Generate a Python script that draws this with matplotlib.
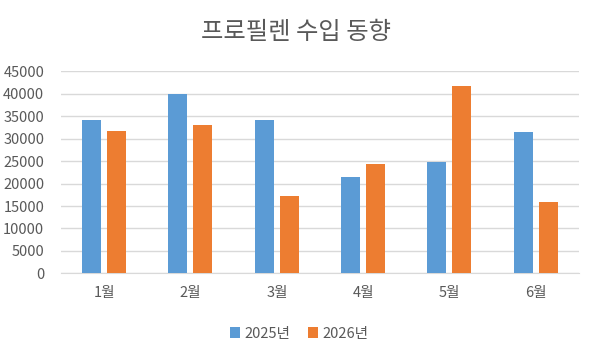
import matplotlib
matplotlib.use("Agg")
import matplotlib.pyplot as plt
import numpy as np

plt.rcParams['font.family'] = ['Noto Sans CJK KR', 'DejaVu Sans']

categories = ['1월', '2월', '3월', '4월', '5월', '6월']
series_names = ['2025년', '2026년']
values_2025 = [34100, 39900, 34100, 21400, 24800, 31400]
values_2026 = [31700, 33000, 17200, 24300, 41700, 15800]
yticks = [0, 5000, 10000, 15000, 20000, 25000, 30000, 35000, 40000, 45000]

blue = '#5B9BD5'
orange = '#ED7D31'
txt = '#595959'

fig = plt.figure(figsize=(5.92, 3.52), dpi=100)
ax = fig.add_axes([0.103, 0.2236, 0.875, 0.5734])

x = np.arange(len(categories))
w = 0.22
off = 0.145
ax.bar(x - off, values_2025, width=w, color=blue, label=series_names[0], zorder=3)
ax.bar(x + off, values_2026, width=w, color=orange, label=series_names[1], zorder=3)

ax.set_xlim(-0.5, len(categories) - 0.5)
ax.set_ylim(0, 45000)
ax.set_yticks(yticks)
ax.set_yticklabels([str(v) for v in yticks])
ax.set_xticks(x)
ax.set_xticklabels(categories)
ax.yaxis.grid(True, color='#D9D9D9', linewidth=1, zorder=0)
ax.set_axisbelow(True)
for s in ['top', 'right', 'left']:
    ax.spines[s].set_visible(False)
ax.spines['bottom'].set_color('#D9D9D9')
ax.tick_params(axis='both', length=0, colors=txt, labelsize=10.5)
ax.tick_params(axis='x', pad=9)
ax.tick_params(axis='y', pad=12)

fig.text(0.5, 0.91, '프로필렌 수입 동향', ha='center', va='center', fontsize=17.5, color=txt)

leg = fig.legend(loc='center', bbox_to_anchor=(0.505, 0.052), ncol=2, frameon=False,
                 fontsize=10.5, handlelength=0.7, handleheight=0.7, columnspacing=1.2,
                 handletextpad=0.3)
for t in leg.get_texts():
    t.set_color(txt)

fig.savefig('out.png', dpi=100)
